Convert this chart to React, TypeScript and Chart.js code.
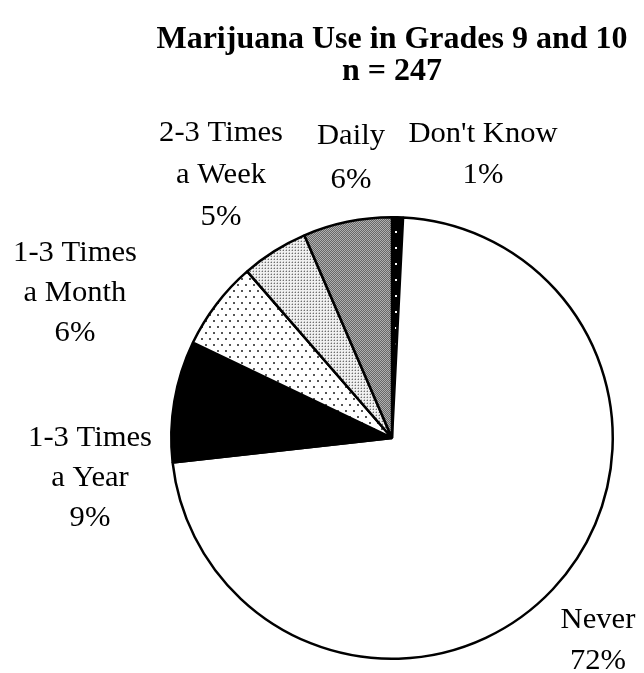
import React, { useEffect, useRef } from "react";
import { Chart, registerables } from "chart.js";

Chart.register(...registerables);

const categories = ["Don't Know", "Never", "1-3 Times a Year", "1-3 Times a Month", "2-3 Times a Week", "Daily"];
const values = [0.8, 72.5, 8.9, 6.5, 4.9, 6.5];
const percentLabels = ["1%", "72%", "9%", "6%", "5%", "6%"];
const labelLines = [
  ["Don't Know", "1%"],
  ["Never", "72%"],
  ["1-3 Times", "a Year", "9%"],
  ["1-3 Times", "a Month", "6%"],
  ["2-3 Times", "a Week", "5%"],
  ["Daily", "6%"],
];
const titleLines = ["Marijuana Use in Grades 9 and 10", "n = 247"];

// label anchor offsets relative to pie center (layout, not data)
const labelAnchors = [
  { dx: 91, dy: -304, lh: 41 },
  { dx: 206, dy: 182, lh: 41 },
  { dx: -302, dy: 0, lh: 40 },
  { dx: -317, dy: -185, lh: 40 },
  { dx: -171, dy: -305, lh: 42 },
  { dx: -41, dy: -302, lh: 44 },
];

const FONT = '"Liberation Serif", "Times New Roman", Times, serif';

function makePattern(w: number, h: number, draw: (c: CanvasRenderingContext2D) => void) {
  const cv = document.createElement("canvas");
  cv.width = w;
  cv.height = h;
  const c = cv.getContext("2d")!;
  draw(c);
  return c.createPattern(cv, "repeat")!;
}

export default function App() {
  const ref = useRef<HTMLCanvasElement | null>(null);
  useEffect(() => {
    const canvas = ref.current!;
    let chart: any = null;
    let cancelled = false;
    const build = () => {
      if (cancelled) return;
      const dk = makePattern(8, 16, (c) => {
        c.fillStyle = "#000";
        c.fillRect(0, 0, 8, 16);
        c.fillStyle = "#fff";
        c.fillRect(3, 7, 2, 2);
      });
      const month = makePattern(8, 12, (c) => {
        c.fillStyle = "#fff";
        c.fillRect(0, 0, 8, 12);
        c.fillStyle = "#555";
        c.fillRect(1, 2, 2, 2);
        c.fillRect(5, 8, 2, 2);
      });
      const week = makePattern(3, 3, (c) => {
        c.fillStyle = "#f0f0f0";
        c.fillRect(0, 0, 3, 3);
        c.fillStyle = "#707070";
        c.fillRect(1, 1, 1, 1);
        c.fillStyle = "#c0c0c0";
        c.fillRect(0, 1, 1, 1);
        c.fillRect(1, 0, 1, 1);
      });
      const daily = makePattern(2, 2, (c) => {
        c.fillStyle = "#686868";
        c.fillRect(0, 0, 2, 2);
        c.fillStyle = "#b0b0b0";
        c.fillRect(0, 0, 1, 1);
        c.fillRect(1, 1, 1, 1);
      });
      const fills: any[] = [dk, "#ffffff", "#000000", month, week, daily];

      const textPlugin = {
        id: "texts",
        afterDraw(ch: any) {
          const ctx = ch.ctx as CanvasRenderingContext2D;
          const arc = ch.getDatasetMeta(0).data[0];
          const cx = arc.x;
          const cy = arc.y;
          ctx.save();
          ctx.fillStyle = "#000";
          ctx.textAlign = "center";
          ctx.textBaseline = "middle";
          const drawText = (t: string, x: number, y: number, sx: number) => {
            ctx.save();
            ctx.translate(x, y);
            ctx.scale(sx, 1);
            ctx.fillText(t, 0, 0);
            ctx.restore();
          };
          ctx.font = "bold 32px " + FONT;
          titleLines.forEach((t, i) => drawText(t, cx, 40 + i * 32, 1.0));
          ctx.font = "30px " + FONT;
          labelLines.forEach((lines, i) => {
            const a = labelAnchors[i];
            lines.forEach((t, j) => {
              drawText(t, cx + a.dx, cy + a.dy + j * a.lh, 1.02);
            });
          });
          ctx.restore();
        },
      };

      chart = new Chart(canvas, {
        type: "pie",
        data: {
          labels: categories,
          datasets: [
            {
              data: values,
              backgroundColor: fills,
              borderColor: "#000",
              borderWidth: 2.5,
            },
          ],
        },
        options: {
          animation: false,
          responsive: false,
          layout: { padding: { left: 170, right: 30, top: 216, bottom: 13 } },
          plugins: {
            legend: { display: false },
            tooltip: { enabled: false },
            title: { display: false },
          },
        },
        plugins: [textPlugin],
      });
    };
    const fontsApi: any = (document as any).fonts;
    if (fontsApi && fontsApi.load) {
      Promise.all([
        fontsApi.load('30px "Liberation Serif"'),
        fontsApi.load('bold 32px "Liberation Serif"'),
      ])
        .catch(() => null)
        .then(() => build());
    } else {
      build();
    }
    return () => {
      cancelled = true;
      if (chart) chart.destroy();
    };
  }, []);
  return (
    <div style={{ position: "fixed", left: 0, top: 0, width: 644, height: 673, background: "#fff" }}>
      <span style={{ fontFamily: FONT, position: "absolute", left: -1000, top: 0 }}>Aa</span>
      <span style={{ fontFamily: FONT, fontWeight: "bold", position: "absolute", left: -1000, top: 0 }}>Aa</span>
      <canvas ref={ref} width={644} height={673} style={{ width: 644, height: 673 }} />
    </div>
  );
}
